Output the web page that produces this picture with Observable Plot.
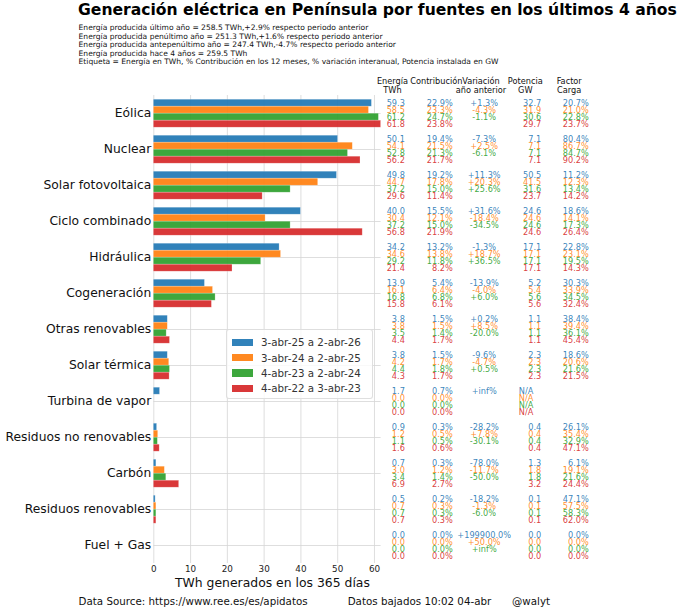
<!DOCTYPE html>
<html><head><meta charset="utf-8">
<script src="https://cdn.jsdelivr.net/npm/d3@7"></script>
<script src="https://cdn.jsdelivr.net/npm/@observablehq/plot@0.6"></script>
<style>
body{margin:0;background:#fff;}
#wrap{position:relative;width:680px;height:610px;overflow:hidden;font-family:"DejaVu Sans",sans-serif;color:#111;}
#wrap svg{position:absolute;left:0;top:0;}
.t{position:absolute;white-space:nowrap;line-height:1.2em;}
</style></head><body><div id="wrap"></div>
<script>
const titulo = "Generación eléctrica en Península por fuentes en los últimos 4 años";
const subtitulos = [
  "Energía producida último año  = 258.5 TWh,+2.9% respecto periodo anterior",
  "Energía producida penúltimo año  = 251.3 TWh,+1.6% respecto periodo anterior",
  "Energía producida antepenúltimo año  = 247.4 TWh,-4.7% respecto periodo anterior",
  "Energía producida hace 4 años  = 259.5 TWh",
  "Etiqueta =  Energía en TWh, % Contribución en los 12 meses, % variación interanual, Potencia instalada en GW"
];
const pie = ["Data Source: https://www.ree.es/es/apidatos", "Datos bajados 10:02 04-abr", "@walyt"];
const ejeX = "TWh generados en los 365 días";
const cabeceras = [["Energía","TWh"],["Contribución"],["Variación","año anterior"],["Potencia","GW"],["Factor","Carga"]];
const ticksX = [0,10,20,30,40,50,60];

const categorias = ["Eólica","Nuclear","Solar fotovoltaica","Ciclo combinado","Hidráulica","Cogeneración","Otras renovables","Solar térmica","Turbina de vapor","Residuos no renovables","Carbón","Residuos renovables","Fuel + Gas"];
const periodos = ["3-abr-25 a 2-abr-26","3-abr-24 a 2-abr-25","4-abr-23 a 2-abr-24","4-abr-22 a 3-abr-23"];
const colores = ["#1f77b4","#ff7f0e","#2ca02c","#d62728"];

const energia = [
  [59.3,50.1,49.8,40.0,34.2,13.9,3.8,3.8,1.7,0.9,0.7,0.5,0.0],
  [58.5,54.1,44.7,30.4,34.6,16.1,3.8,4.2,0.0,1.2,3.0,0.7,0.0],
  [61.2,52.8,37.2,37.2,29.2,16.8,3.5,4.4,0.0,1.1,3.4,0.7,0.0],
  [61.8,56.2,29.6,56.8,21.4,15.8,4.4,4.3,0.0,1.6,6.9,0.7,0.0]
];
const contribucion = [
  [22.9,19.4,19.2,15.5,13.2,5.4,1.5,1.5,0.7,0.3,0.3,0.2,0.0],
  [23.3,21.5,17.8,12.1,13.8,6.4,1.5,1.7,0.0,0.5,1.2,0.3,0.0],
  [24.7,21.3,15.0,15.0,11.8,6.8,1.4,1.8,0.0,0.5,1.4,0.3,0.0],
  [23.8,21.7,11.4,21.9,8.2,6.1,1.7,1.7,0.0,0.6,2.7,0.3,0.0]
];
const variacion = [
  [1.3,-7.3,11.3,31.6,-1.3,-13.9,0.2,-9.6,Infinity,-28.2,-78.0,-18.2,199900.0],
  [-4.3,2.5,20.3,-18.4,18.7,-4.0,8.5,-4.7,null,7.8,-11.7,-1.3,50.0],
  [-1.1,-6.1,25.6,-34.5,36.5,6.0,-20.0,0.5,null,-30.1,-50.0,-6.0,Infinity],
  [null,null,null,null,null,null,null,null,null,null,null,null,null]
];
const potencia = [
  [32.7,7.1,50.5,24.6,17.1,5.2,1.1,2.3,null,0.4,1.3,0.1,0.0],
  [31.9,7.1,41.5,24.6,17.1,5.4,1.1,2.3,null,0.4,1.8,0.1,0.0],
  [30.6,7.1,31.6,24.6,17.1,5.6,1.1,2.3,null,0.4,1.8,0.1,0.0],
  [29.7,7.1,23.7,24.6,17.1,5.6,1.1,2.3,null,0.4,3.2,0.1,0.0]
];
const factorCarga = [
  [20.7,80.4,11.2,18.6,22.8,30.3,38.4,18.6,null,26.1,6.1,47.1,0.0],
  [21.0,86.7,12.3,14.1,23.1,33.9,39.4,20.6,null,35.4,19.1,57.5,0.0],
  [22.8,84.7,13.4,17.3,19.5,34.5,36.1,21.6,null,32.9,21.6,58.3,0.0],
  [23.7,90.2,14.2,26.4,14.3,32.4,45.4,21.5,null,47.1,24.4,62.0,0.0]
];

const rows = [];
periodos.forEach((p, s) => categorias.forEach((c, i) => rows.push({
  cat: c, serie: p, energia: energia[s][i], contrib: contribucion[s][i],
  variacion: variacion[s][i], potencia: potencia[s][i], factor: factorCarga[s][i]
})));

const fmtVar = v => v == null ? "" : (v === Infinity ? "+inf%" : (v >= 0 ? "+" : "") + v.toFixed(1) + "%");
const fs = 8.2;

const chart = Plot.plot({
  width: 680, height: 610,
  marginTop: 92.8, marginBottom: 44.8, marginLeft: 153.3, marginRight: 299.4,
  style: {fontFamily: "DejaVu Sans", color: "#111", background: "transparent", overflow: "visible"},
  x: {domain: [0, d3.max(energia.flat())]},
  fy: {domain: categorias, padding: 0},
  y: {domain: periodos, paddingInner: 0, paddingOuter: 0.5, axis: null},
  color: {domain: periodos, range: colores},
  marks: [
    Plot.gridX(ticksX, {stroke: "#d6d6d6", strokeOpacity: 1, strokeWidth: 0.8}),
    Plot.gridFy({stroke: "#d6d6d6", strokeOpacity: 1, strokeWidth: 0.8}),
    Plot.barX(rows, {fy: "cat", y: "serie", x: "energia", fill: "serie", fillOpacity: 0.92, stroke: "#fff", strokeOpacity: 0.4, strokeWidth: 0.6}),
    Plot.text(rows, {fy: "cat", y: "serie", text: d => d.energia.toFixed(1), fill: "serie", fillOpacity: 0.9, frameAnchor: "right", textAnchor: "end", dx: 23.8, fontSize: fs}),
    Plot.text(rows, {fy: "cat", y: "serie", text: d => d.contrib.toFixed(1) + "%", fill: "serie", fillOpacity: 0.9, frameAnchor: "right", textAnchor: "end", dx: 71.7, fontSize: fs}),
    Plot.text(rows, {fy: "cat", y: "serie", text: d => fmtVar(d.variacion), fill: "serie", fillOpacity: 0.9, frameAnchor: "right", textAnchor: "middle", dx: 103.1, fontSize: fs}),
    Plot.text(rows.filter(d => d.potencia != null), {fy: "cat", y: "serie", text: d => d.potencia.toFixed(1), fill: "serie", fillOpacity: 0.9, frameAnchor: "right", textAnchor: "end", dx: 160.2, fontSize: fs}),
    Plot.text(rows.filter(d => d.potencia == null), {fy: "cat", y: "serie", text: () => "N/A", fill: "serie", fillOpacity: 0.9, frameAnchor: "right", textAnchor: "start", dx: 137.7, fontSize: fs}),
    Plot.text(rows.filter(d => d.factor != null), {fy: "cat", y: "serie", text: d => d.factor.toFixed(1) + "%", fill: "serie", fillOpacity: 0.9, frameAnchor: "right", textAnchor: "end", dx: 207.7, fontSize: fs}),
    Plot.axisX(ticksX, {tickSize: 0, tickPadding: 2.3, fontSize: 8.8, label: null, color: "#222"}),
    Plot.axisFy({anchor: "left", tickSize: 0, tickPadding: 2.6, fontSize: 12.3, label: null, color: "#111"})
  ]
});

const wrap = document.getElementById("wrap");
wrap.appendChild(chart);

function place(text, x, yc, size, anchor = "start", extra = {}) {
  const d = document.createElement("div");
  d.className = "t";
  d.textContent = text;
  d.style.fontSize = size + "px";
  d.style.left = x + "px";
  d.style.top = (yc - size * 0.6) + "px";
  const tx = anchor === "middle" ? "-50%" : anchor === "end" ? "-100%" : "0";
  d.style.transform = `translateX(${tx})`;
  Object.assign(d.style, extra);
  wrap.appendChild(d);
  return d;
}

place(titulo, 78, 10.6, 15.6, "start", {fontWeight: "bold", color: "#000"});
subtitulos.forEach((s, k) => place(s, 78.6, 27.5 + 8.6 * k, 7.55, "start", {color: "#111"}));

const cabX = [392.5, 436.3, 481, 525.3, 569.2];
cabeceras.forEach((lines, j) => lines.forEach((l, k) => place(l, cabX[j], 81.7 + 9.3 * k, 8.2, "middle", {color: "#111"})));

place(ejeX, 175, 583, 12.4, "start", {color: "#111"});
const pieX = [78.6, 347.7, 512];
pie.forEach((p, k) => place(p, pieX[k], 601, 10.3, "start", {color: "#111"}));

// legend
const lg = document.createElement("div");
Object.assign(lg.style, {position: "absolute", left: "226px", top: "329px", width: "147px", height: "70px",
  background: "rgba(255,255,255,0.8)", border: "1px solid rgba(215,215,215,0.8)", borderRadius: "3px", boxSizing: "border-box"});
wrap.appendChild(lg);
periodos.forEach((p, k) => {
  const yc = 342.5 + 15.3 * k;
  const sw = document.createElement("div");
  Object.assign(sw.style, {position: "absolute", left: "231.7px", top: (yc - 3.7) + "px", width: "21px", height: "7.4px", background: colores[k], opacity: 0.92});
  wrap.appendChild(sw);
  place(p, 261, yc, 10.3, "start", {color: "#333"});
});
</script></body></html>
